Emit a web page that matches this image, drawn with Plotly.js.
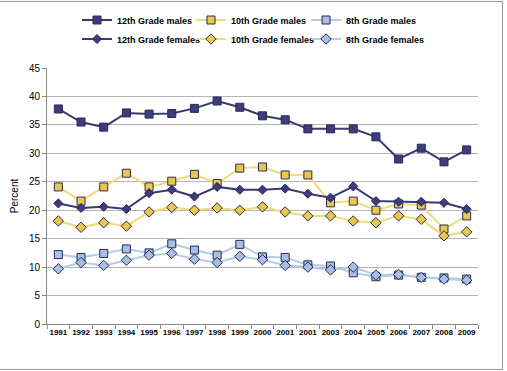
<!DOCTYPE html>
<html><head><meta charset="utf-8">
<script src="https://cdn.plot.ly/plotly-3.0.1.min.js"></script>
<style>
html,body{margin:0;padding:0;background:#fff;}
#chart{width:507px;height:371px;position:absolute;left:0;top:0;}
#frame{position:absolute;left:0;top:1px;width:502px;height:367px;border:1px solid #9a9a9a;border-left:none;pointer-events:none;}
</style></head>
<body>
<div id="chart"></div>
<div id="frame"></div>
<script>
const years = ["1991","1992","1993","1994","1995","1996","1997","1998","1999","2000","2001","2002","2003","2004","2005","2006","2007","2008","2009"];
const yearLabels = ["1991","1992","1993","1994","1995","1996","1997","1998","1999","2000","2001","2001","2003","2004","2005","2006","2007","2008","2009"];
const males12 = [37.8,35.5,34.6,37.1,36.9,37.0,37.9,39.2,38.1,36.6,35.9,34.3,34.3,34.3,32.9,29.0,30.9,28.5,30.6];
const males10 = [24.1,21.6,24.1,26.5,24.1,25.1,26.3,24.7,27.4,27.6,26.2,26.2,21.3,21.6,20.0,21.1,20.9,16.7,19.0];
const males8 = [12.2,11.7,12.4,13.2,12.5,14.1,13.0,12.1,14.0,11.8,11.7,10.4,10.2,9.0,8.3,8.6,8.2,8.1,7.9];
const females12 = [21.2,20.4,20.6,20.2,23.0,23.6,22.4,24.1,23.6,23.6,23.8,22.9,22.2,24.2,21.6,21.5,21.5,21.3,20.2];
const females10 = [18.1,17.0,17.8,17.2,19.7,20.5,20.0,20.4,20.0,20.6,19.7,19.0,19.0,18.1,17.8,19.0,18.4,15.5,16.2];
const females8 = [9.7,10.8,10.3,11.2,12.1,12.4,11.4,10.8,11.9,11.3,10.3,10.0,9.5,10.0,8.6,8.7,8.2,7.9,7.7];
const names = ["12th Grade males","10th Grade males","8th Grade males","12th Grade females","10th Grade females","8th Grade females"];

function tr(name, y, lineCol, fillCol, symbol, size, leg){
  return {x: years, y: y, name: name, type: 'scatter', mode: 'lines+markers', legend: leg,
    line: {color: lineCol, width: 2},
    marker: {symbol: symbol, size: size, color: fillCol, line: {color: '#2a2a50', width: 1}}};
}
const data = [
  tr(names[0], males12, '#3a3a72', '#3c3c80', 'square', 8, 'legend'),
  tr(names[1], males10, '#ecdc7a', '#e8c94e', 'square', 8, 'legend2'),
  tr(names[2], males8, '#b4cce4', '#a6bfe6', 'square', 8, 'legend3'),
  tr(names[3], females12, '#3a3a72', '#3c3c80', 'diamond', 7, 'legend4'),
  tr(names[4], females10, '#ecdc7a', '#e8c94e', 'diamond', 8, 'legend5'),
  tr(names[5], females8, '#b4cce4', '#a6bfe6', 'diamond', 8, 'legend6')
];
const legFont = {size: 9, family: 'Liberation Sans, Arial, sans-serif', weight: 'bold', color: '#000'};
function leg(x, y){
  return {orientation: 'h', x: x, xanchor: 'left', y: y, yanchor: 'middle',
    itemwidth: 30, font: legFont, bgcolor: 'rgba(0,0,0,0)'};
}
const row1 = (324 - 20) / 256, row2 = (324 - 39) / 256;
const cols = [0.0696, 0.334, 0.601];
const layout = {
  width: 507, height: 371,
  margin: {l: 47, r: 29, t: 68, b: 47, autoexpand: false},
  paper_bgcolor: '#fff', plot_bgcolor: '#fff',
  font: {family: 'Liberation Sans, Arial, sans-serif', color: '#000'},
  showlegend: true,
  legend: leg(cols[0], row1), legend2: leg(cols[1], row1), legend3: leg(cols[2], row1),
  legend4: leg(cols[0], row2), legend5: leg(cols[1], row2), legend6: leg(cols[2], row2),
  xaxis: {type: 'category', tickvals: years, ticktext: yearLabels, tickson: 'boundaries',
    ticks: 'outside', ticklen: 4, tickcolor: '#888', showgrid: false, tickangle: 0,
    showline: true, linecolor: '#888', linewidth: 1,
    tickfont: {size: 8, weight: 'bold'}, range: [-0.5, 18.5], zeroline: false},
  yaxis: {range: [0, 45], dtick: 5, showgrid: true, gridcolor: '#b4b4b4', gridwidth: 1,
    showline: true, linecolor: '#888', ticks: 'outside', ticklen: 4, tickcolor: '#888',
    tickfont: {size: 10}, zeroline: false,
    title: {text: 'Percent', font: {size: 10}, standoff: 8}}
};
Plotly.newPlot('chart', data, layout, {displayModeBar: false, staticPlot: true});
</script>
</body></html>
